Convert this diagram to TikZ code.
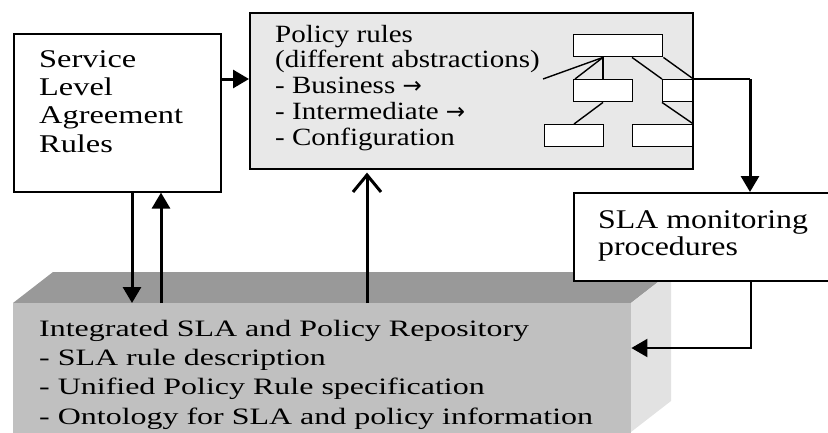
\documentclass[tikz,border=0pt]{standalone}
\usepackage{fontspec}
\setmainfont{Liberation Serif}
\newfontfamily\slafont[FakeStretch=1.27]{Liberation Serif}
\newfontfamily\polfont[FakeStretch=1.17]{Liberation Serif}
\newfontfamily\monfont[FakeStretch=1.18]{Liberation Serif}
\newfontfamily\repfont[FakeStretch=1.36]{Liberation Serif}
\newfontfamily\arrowfont{DejaVu Sans}
\newcommand{\rarr}{{\arrowfont\fontsize{23}{23}\selectfont →}}
\usetikzlibrary{arrows.meta,calc}

\definecolor{policybg}{HTML}{E8E8E8}
\definecolor{repotop}{HTML}{999999}
\definecolor{repofront}{HTML}{C0C0C0}
\definecolor{reposide}{HTML}{E2E2E2}

\begin{document}
\begin{tikzpicture}[x=1pt,y=-1pt,
  box/.style={draw,line width=1.6pt,inner sep=0pt,anchor=north west},
  leaf/.style={draw,fill=white,line width=1.4pt,inner sep=0pt,anchor=north west,minimum height=22pt},
  twig/.style={line width=1.4pt},
  link/.style={line width=2pt},
  heavy/.style={line width=3pt,-{Triangle[length=16pt,width=18pt]}},
  slim/.style={line width=2pt,-{Triangle[length=16pt,width=18pt]}},
  barb/.style={line width=3pt,-{Straight Barb[length=17pt,width=28pt,line width=3pt]}},
  label/.style={anchor=base west,align=left,inner sep=0pt}]
\useasboundingbox (0,0) rectangle (828,432);

% repository block drawn as a shaded cuboid
\fill[repotop] (13,303) -- (53,272) -- (671,272) -- (631,303) -- cycle;
\fill[reposide] (631,303) -- (671,272) -- (671,401) -- (631,432) -- cycle;
\node[fill=repofront,inner sep=0pt,anchor=north west,minimum width=618pt,minimum height=130pt] (repo) at (13,303) {};
% multi-line labels are placed by the baseline of their last line
\node[label,font=\repfont\fontsize{23.5}{29.3}\selectfont] (repotext) at (39,424)
  {Integrated SLA and Policy Repository\\- SLA rule description\\- Unified Policy Rule specification\\- Ontology for SLA and policy information};

% service level agreement box
\node[box,fill=white,minimum width=207pt,minimum height=158pt] (sla) at (13,33) {};
\node[label,font=\slafont\fontsize{25.5}{28.3}\selectfont] (slatext) at (39,152)
  {Service\\Level\\Agreement\\Rules};

% policy rules box with its rule hierarchy
\node[box,fill=policybg,minimum width=443pt,minimum height=156pt] (pol) at (249,12) {};
\node[label,font=\polfont\fontsize{24.8}{25.7}\selectfont] (poltext) at (275,145)
  {Policy rules\\(different abstractions)\\- Business \rarr\\- Intermediate \rarr\\- Configuration};

\node[leaf,minimum width=89pt] (T) at (573,34) {};
\node[leaf,minimum width=59pt] (ML) at (573,79) {};
\node[leaf,minimum width=30pt] (MR) at (662,79) {};
\node[leaf,minimum width=59pt] (BL) at (544,124) {};
\node[leaf,minimum width=60pt] (BR) at (632,124) {};
\coordinate (tail) at (543,79);
\draw[twig] ([xshift=30pt]T.south west) -- (tail);
\draw[twig] ([xshift=30pt]T.south west) -- ([xshift=30pt]ML.north west);
\draw[twig] ([xshift=30pt]T.south west) -- ([xshift=2pt]ML.north west);
\draw[twig] ([xshift=59pt]T.south west) -- (MR.north west);
\draw[twig] (T.south east) -- (MR.north east);
\draw[twig] ([xshift=30pt]ML.south west) -- ([xshift=30pt]BL.north west);
\draw[twig] (MR.south west) -- (BR.north east);

% monitoring procedures box
\node[box,fill=white,minimum width=262pt,minimum height=88pt] (mon) at (573,192) {};
\node[label,font=\monfont\fontsize{27}{27}\selectfont] (montext) at (598,255)
  {SLA monitoring\\procedures};

% connectors
\coordinate (a1) at (0,79);
\coordinate (d1) at (132,0);
\coordinate (u1) at (161,0);
\coordinate (u2) at (367,0);
\coordinate (bend) at (750,79);
\coordinate (drop) at (751,348);

\draw[heavy] (sla.east |- a1) -- (pol.west |- a1);
\draw[heavy] (sla.south -| d1) -- (repo.north -| d1);
\draw[heavy] (repo.north -| u1) -- (sla.south -| u1);
\draw[barb] (repo.north -| u2) -- ([yshift=-3pt]pol.south -| u2);
\draw[link] (MR.north east) -- (bend);
\draw[heavy] (bend) -- (mon.north -| bend);
\draw[slim] (mon.south -| drop) -- (drop) -- (repo.east |- drop);
\end{tikzpicture}
\end{document}
